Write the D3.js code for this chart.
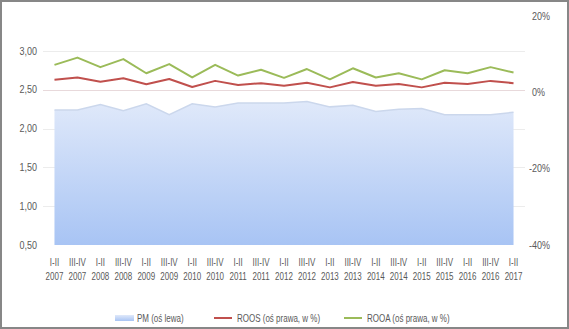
<!DOCTYPE html>
<html><head><meta charset="utf-8">
<script src="https://cdn.jsdelivr.net/npm/d3@7"></script>
<style>body{margin:0;background:#fff}svg{display:block}text{font-family:"Liberation Sans",Arial,sans-serif;fill:#595959;font-size:10px}</style>
</head><body><svg id="c" width="569" height="329"></svg>
<script>
const periods = ["I-II","III-IV","I-II","III-IV","I-II","III-IV","I-II","III-IV","I-II","III-IV","I-II","III-IV","I-II","III-IV","I-II","III-IV","I-II","III-IV","I-II","III-IV","I-II"];
const years = ["2007","2007","2008","2008","2009","2009","2010","2010","2011","2011","2012","2012","2013","2013","2014","2014","2015","2015","2016","2016","2017"];
const pm = [2.24,2.24,2.31,2.23,2.32,2.18,2.32,2.28,2.33,2.33,2.33,2.35,2.28,2.30,2.22,2.25,2.26,2.18,2.18,2.18,2.21];
const roos = [3.3,3.9,2.8,3.7,2.1,3.5,1.4,3.0,1.9,2.4,1.7,2.5,1.3,2.7,1.7,2.2,1.3,2.5,2.2,3.0,2.4];
const rooa = [7.2,9.1,6.6,8.7,5.0,7.4,3.9,7.2,4.4,5.9,3.8,6.1,3.4,6.3,3.9,5.0,3.4,5.8,5.0,6.6,5.2];
const leftTicks = [0.5,1.0,1.5,2.0,2.5,3.0];
const rightTicks = [-40,-20,0,20];
const legendLabels = ["PM (oś lewa)","ROOS (oś prawa, w %)","ROOA (oś prawa, w %)"];

const svg = d3.select("#c");
const idx = d3.range(periods.length);
const x = d3.scaleBand().domain(idx).range([43,525]);
const cx = i => x(i) + x.bandwidth()/2;
const yL = d3.scaleLinear().domain([0.5,3.0]).range([245,51]);
const yR = d3.scaleLinear().domain([-40,20]).range([245,16]);
const SX = 0.8;

const defs = svg.append("defs");
const g = defs.append("linearGradient").attr("id","ga").attr("x1",0).attr("y1",0).attr("x2",0).attr("y2",1);
g.append("stop").attr("offset","0%").attr("stop-color","#e0e9fa");
g.append("stop").attr("offset","100%").attr("stop-color","#a8c4f4");

// border
svg.append("rect").attr("x",1).attr("y",1).attr("width",567).attr("height",327).attr("fill","#fff").attr("stroke","#878787").attr("stroke-width",2);

// gridlines
svg.append("g").selectAll("line").data(leftTicks.slice(1)).join("line")
  .attr("x1",43).attr("x2",525).attr("y1",d=>Math.round(yL(d))+0.5).attr("y2",d=>Math.round(yL(d))+0.5)
  .attr("stroke",d=>d===2.5?"#e8d9db":"#ececec").attr("stroke-width",1);

// area
svg.append("path").datum(idx)
  .attr("d",d3.area().x(cx).y0(yL(0.5)).y1(i=>yL(pm[i])))
  .attr("fill","url(#ga)");
svg.append("path").datum(idx)
  .attr("d",d3.line().x(cx).y(i=>yL(pm[i])))
  .attr("fill","none").attr("stroke","#cbd7ec").attr("stroke-width",1.5);

// lines
svg.append("path").datum(idx).attr("d",d3.line().x(cx).y(i=>yR(roos[i])))
  .attr("fill","none").attr("stroke","#c0504d").attr("stroke-width",2).attr("stroke-linejoin","round");
svg.append("path").datum(idx).attr("d",d3.line().x(cx).y(i=>yR(rooa[i])))
  .attr("fill","none").attr("stroke","#9bbb59").attr("stroke-width",2).attr("stroke-linejoin","round");

// left axis labels
const fmtL = d => d3.format(".2f")(d).replace(".",",");
svg.append("g").selectAll("text").data(leftTicks).join("text")
  .attr("transform",d=>`translate(37,${yL(d)}) scale(0.9,1)`).attr("dy","0.35em").attr("text-anchor","end").text(fmtL);
// right axis labels
svg.append("g").selectAll("text").data(rightTicks).join("text")
  .attr("transform",d=>`translate(${d<0?529:532},${yR(d)}) scale(0.9,1)`).attr("dy","0.35em").attr("text-anchor","start").text(d=>d+"%");

// x labels
const xl = svg.append("g").selectAll("g").data(idx).join("g");
xl.append("text").attr("transform",i=>`translate(${cx(i)},266) scale(${SX},1)`).attr("text-anchor","middle").text(i=>periods[i]);
xl.append("text").attr("transform",i=>`translate(${cx(i)},280) scale(${SX},1)`).attr("text-anchor","middle").text(i=>years[i]);

// legend
const lg = svg.append("g");
const lt = (xx,s)=>lg.append("text").attr("transform",`translate(${xx},318) scale(${SX},1)`).attr("dy","0.35em").text(s);
lg.append("rect").attr("x",115).attr("y",315).attr("width",19).attr("height",6).attr("fill","url(#ga)");
lt(137,legendLabels[0]);
lg.append("line").attr("x1",214).attr("x2",232).attr("y1",318).attr("y2",318).attr("stroke","#c0504d").attr("stroke-width",2);
lt(237,legendLabels[1]);
lg.append("line").attr("x1",344).attr("x2",362).attr("y1",318).attr("y2",318).attr("stroke","#9bbb59").attr("stroke-width",2);
lt(367,legendLabels[2]);
</script></body></html>
